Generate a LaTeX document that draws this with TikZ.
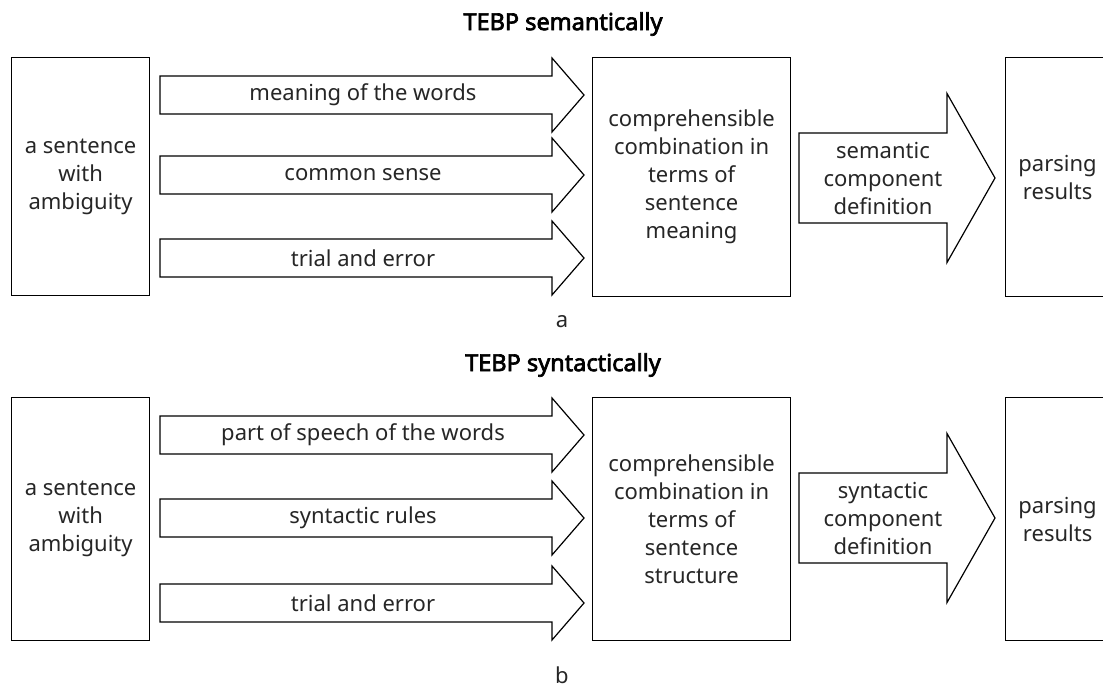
\documentclass[tikz,border=0pt]{standalone}
\usepackage{fontspec}
\setmainfont{Noto Sans}
\newfontfamily\ttlfont{Noto Sans}[FakeBold=2.8]
\newcommand\blockarrow[6]{%
  \draw[arr] (#1,#4-#5) -- (#2,#4-#5) -- (#2,#4-#6) -- (#3,#4) -- (#2,#4+#6) -- (#2,#4+#5) -- (#1,#4+#5) -- cycle;}
\begin{document}
\begin{tikzpicture}[x=1pt,y=-1pt,
  every node/.style={text=black!85, font=\fontsize{22}{28}\selectfont},
  box/.style={draw=black, line width=1.2pt, inner sep=0pt, align=center, anchor=north west},
  arr/.style={draw=black, line width=1.2pt, line join=miter},
  lbl/.style={align=center, inner sep=0pt},
  ttl/.style={font=\ttlfont\fontsize{23.5}{26}\selectfont, text=black}]
\useasboundingbox (0,0) rectangle (1103,689);
\clip (0,0) rectangle (1103,689);
\fill[white] (0,0) rectangle (1103,689);

% ---- panel a ----
\node[ttl] (t1) at (563,24) {TEBP semantically};
\node[box, minimum width=138pt, minimum height=238pt] (s1) at (11,57) {a sentence\\with\\ambiguity};
\node[box, minimum width=198pt, minimum height=239pt] (c1) at (592,57) {comprehensible\\combination in\\terms of\\sentence\\meaning};
\node[box, minimum width=104pt, minimum height=239pt] (r1) at (1005,57) {parsing\\results};
\blockarrow{160}{552}{584}{95}{19}{37}
\blockarrow{160}{552}{584}{175}{19}{37}
\blockarrow{160}{552}{584}{258}{19}{37}
\node[lbl] (m1) at (363,95) {meaning of the words};
\node[lbl] (m2) at (363,175) {common sense};
\node[lbl] (m3) at (363,258) {trial and error};
\blockarrow{799}{947}{995}{178}{45}{84.5}
\node[lbl] (d1) at (883,178) {semantic\\component\\definition};
\node[lbl] (la) at (562,322) {a};

% ---- panel b ----
\node[ttl] (t2) at (563,365) {TEBP syntactically};
\node[box, minimum width=138pt, minimum height=243pt] (s2) at (11,397) {a sentence\\with\\ambiguity};
\node[box, minimum width=198pt, minimum height=243pt] (c2) at (592,397) {comprehensible\\combination in\\terms of\\sentence\\structure};
\node[box, minimum width=104pt, minimum height=243pt] (r2) at (1005,397) {parsing\\results};
\blockarrow{160}{552}{584}{435}{19}{37}
\blockarrow{160}{552}{584}{518}{19}{37}
\blockarrow{160}{552}{584}{603}{19}{37}
\node[lbl] (n1) at (363,435) {part of speech of the words};
\node[lbl] (n2) at (363,518) {syntactic rules};
\node[lbl] (n3) at (363,603) {trial and error};
\blockarrow{799}{947}{995}{518}{45}{84.5}
\node[lbl] (d2) at (883,518) {syntactic\\component\\definition};
\node[lbl] (lb) at (562,675) {b};
\end{tikzpicture}
\end{document}
